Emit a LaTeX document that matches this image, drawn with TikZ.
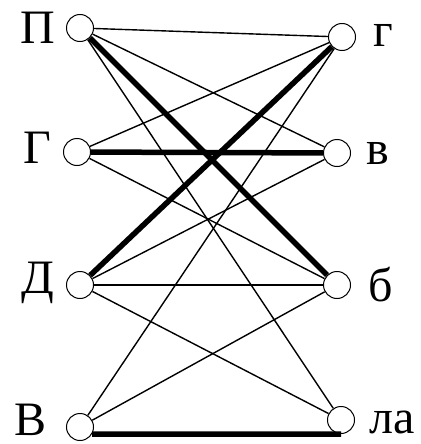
\documentclass[tikz,border=0pt]{standalone}
\usepackage{fontspec}
\setmainfont{Liberation Serif}
\usetikzlibrary{positioning}

\begin{document}
\begin{tikzpicture}[x=1pt,y=-1pt,
  vert/.style={circle,draw,fill=white,minimum size=27pt,inner sep=0pt,
               line width=1pt},
  lab/.style={font=\fontsize{48}{48}\selectfont,inner sep=0pt},
  link/.style={line width=1.4pt},
  heavy/.style={line width=5.5pt}
]
\useasboundingbox (0,0) rectangle (420,444);

% ---- left column ----
\node[vert] (pN) at (80,28)  {};
\node[vert] (gN) at (77,152) {};
\node[vert] (dN) at (80,285) {};
\node[vert] (vN) at (80,427) {};

% ---- right column ----
\node[vert] (gr) at (342,37)  {};
\node[vert] (vr) at (337,153) {};
\node[vert] (br) at (337,285) {};
\node[vert] (la) at (341,420) {};

% ---- labels ----
\node[lab,left=11pt of pN] {П};
\node[lab,left=12pt of gN,yshift=4pt] {Г};
\node[lab,left=12pt of dN,yshift=2pt] {Д};
\node[lab,left=19pt of vN,yshift=7pt] {В};
\node[lab,right=17pt of gr,yshift=2pt] {г};
\node[lab,right=15pt of vr] {в};
\node[lab,right=17pt of br] {б};
\node[lab,right=14pt of la,yshift=-2pt] {ла};

% ---- edges ----
\foreach \a/\b in {pN/gr,pN/vr,pN/la,gN/gr,gN/br,dN/vr,dN/br,dN/la,vN/gr,vN/br}
  \draw[link] (\a) -- (\b);
\foreach \a/\b in {pN/br,gN/vr,dN/gr}
  \draw[heavy] (\a) -- (\b);
\draw[heavy] (vN.-30) -- (la.south);

\end{tikzpicture}
\end{document}
